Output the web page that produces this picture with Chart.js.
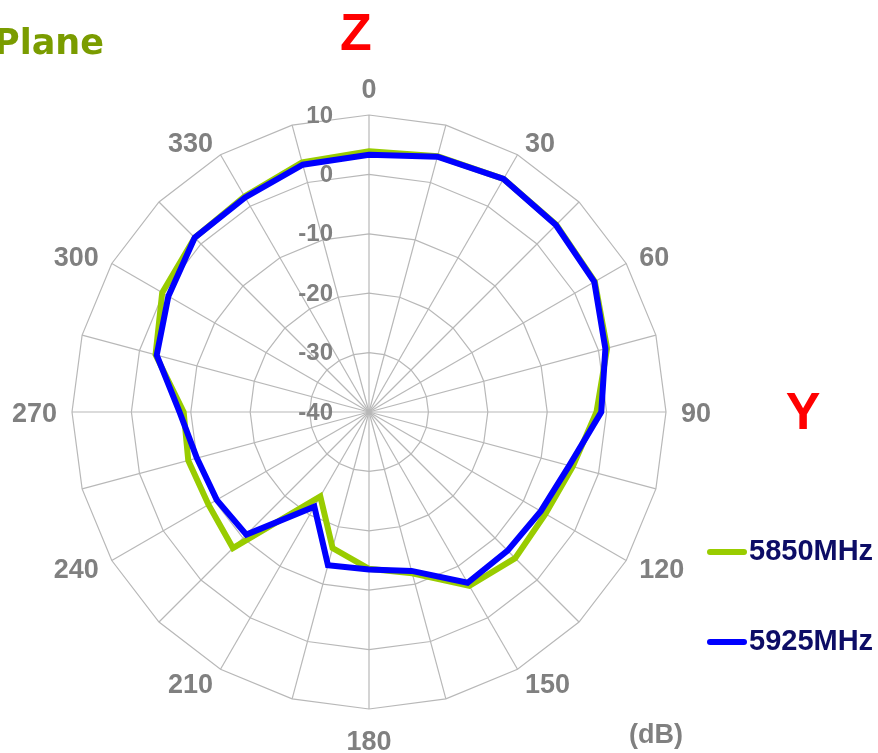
<!DOCTYPE html>
<html>
<head>
<meta charset="utf-8">
<script src="https://cdn.jsdelivr.net/npm/chart.js@4"></script>
<style>
  html, body { margin: 0; padding: 0; background: #ffffff; }
  canvas { display: block; }
</style>
</head>
<body>
<canvas id="patternChart" width="878" height="753"></canvas>
<script>
// angles (deg), one spoke every 15
const angles = ['0','15','30','45','60','75','90','105','120','135','150','165',
                '180','195','210','225','240','255','270','285','300','315','330','345'];

// gain in dB
const gain5850 = [3.9, 4.6, 5.3, 4.6, 3.9, 1.5, -1.7, -4.5, -5.7, -5.2, -6.2, -11.9,
                  -13.6, -16.3, -23.6, -7.6, -8.8, -8.5, -8.8, -2.8, 0.2, 1.5, 1.9, 3.5];
const gain5925 = [3.3, 4.5, 5.3, 4.5, 3.8, 1.2, -0.9, -5.1, -6.6, -7.0, -6.8, -12.3,
                  -13.5, -13.3, -21.6, -10.8, -10.4, -10.0, -8.1, -3.0, -1.0, 1.5, 1.7, 3.1];

const seriesNames = ['5850MHz', '5925MHz'];
const tickValues = [-40, -30, -20, -10, 0, 10];

const GRAY = '#808080';

// text around the plot: angle labels, dB ticks, legend, axis letters
const decorations = {
  id: 'decorations',
  afterDraw(chart) {
    const ctx = chart.ctx;
    const r = chart.scales.r;
    ctx.save();

    // angle labels every 30 deg
    ctx.fillStyle = GRAY;
    ctx.font = 'bold 27px "Liberation Sans", Arial, sans-serif';
    angles.forEach((a, i) => {
      if (i % 2) return;
      const deg = Number(a);
      let dist = r.drawingArea + 15;
      let align = 'left';
      if (deg === 0) { align = 'center'; dist = r.drawingArea + 27; }
      else if (deg === 180) { align = 'center'; dist = r.drawingArea + 31; }
      else if (deg > 180) align = 'right';
      const p = r.getPointPosition(i, dist);
      ctx.textAlign = align;
      ctx.textBaseline = 'middle';
      ctx.fillText(a, p.x, p.y + 3);
    });

    // dB ticks, left of the 0 deg spoke
    ctx.font = 'bold 24px "Liberation Sans", Arial, sans-serif';
    ctx.textAlign = 'right';
    ctx.textBaseline = 'middle';
    tickValues.forEach(v => {
      const y = r.yCenter - r.getDistanceFromCenterForValue(v);
      ctx.fillText(String(v), r.xCenter - 36, y + 1);
    });

    ctx.textAlign = 'center';
    ctx.font = 'bold 27px "Liberation Sans", Arial, sans-serif';
    ctx.fillText('(dB)', 656, 736);

    // legend
    chart.data.datasets.forEach((ds, i) => {
      const y = 552 + i * 90;
      ctx.strokeStyle = ds.borderColor;
      ctx.lineWidth = 6;
      ctx.lineCap = 'round';
      ctx.beginPath();
      ctx.moveTo(710, y);
      ctx.lineTo(744, y);
      ctx.stroke();
      ctx.fillStyle = '#0d0d66';
      ctx.font = 'bold 29px "Liberation Sans", Arial, sans-serif';
      ctx.textAlign = 'left';
      ctx.textBaseline = 'middle';
      ctx.fillText(ds.label, 749, y);
    });

    // axis letters
    ctx.fillStyle = '#ff0000';
    ctx.font = 'bold 52px "Liberation Sans", Arial, sans-serif';
    ctx.textAlign = 'center';
    ctx.textBaseline = 'alphabetic';
    ctx.fillText('Z', 356, 50);
    ctx.fillText('Y', 803, 429);

    // title (cut off at the left edge in the original)
    ctx.fillStyle = '#7a9c00';
    ctx.font = 'bold 35px "DejaVu Sans", Verdana, sans-serif';
    ctx.textAlign = 'right';
    ctx.fillText('Plane', 104, 54);

    ctx.restore();
  }
};

const ctx = document.getElementById('patternChart').getContext('2d');
const patternChart = new Chart(ctx, {
  type: 'radar',
  data: {
    labels: angles,
    datasets: [{
      label: seriesNames[0],
      data: gain5850,
      borderColor: '#99cc00',
      order: 1
    }, {
      label: seriesNames[1],
      data: gain5925,
      borderColor: '#0000ff',
      order: 0
    }]
  },
  options: {
    responsive: false,
    animation: false,
    layout: {
      padding: { left: 72, top: 115, right: 212, bottom: 44 }
    },
    elements: {
      line: { borderWidth: 6, tension: 0, fill: false, borderJoinStyle: 'miter' },
      point: { radius: 0, hoverRadius: 0 }
    },
    scales: {
      r: {
        min: -40,
        max: 10,
        ticks: { stepSize: 10, display: false },
        grid: { color: '#b8b8b8', lineWidth: 1.2 },
        angleLines: { color: '#b8b8b8', lineWidth: 1.2 },
        pointLabels: { display: false }
      }
    },
    plugins: {
      legend: { display: false },
      tooltip: { enabled: false }
    }
  },
  plugins: [decorations]
});
</script>
</body>
</html>
